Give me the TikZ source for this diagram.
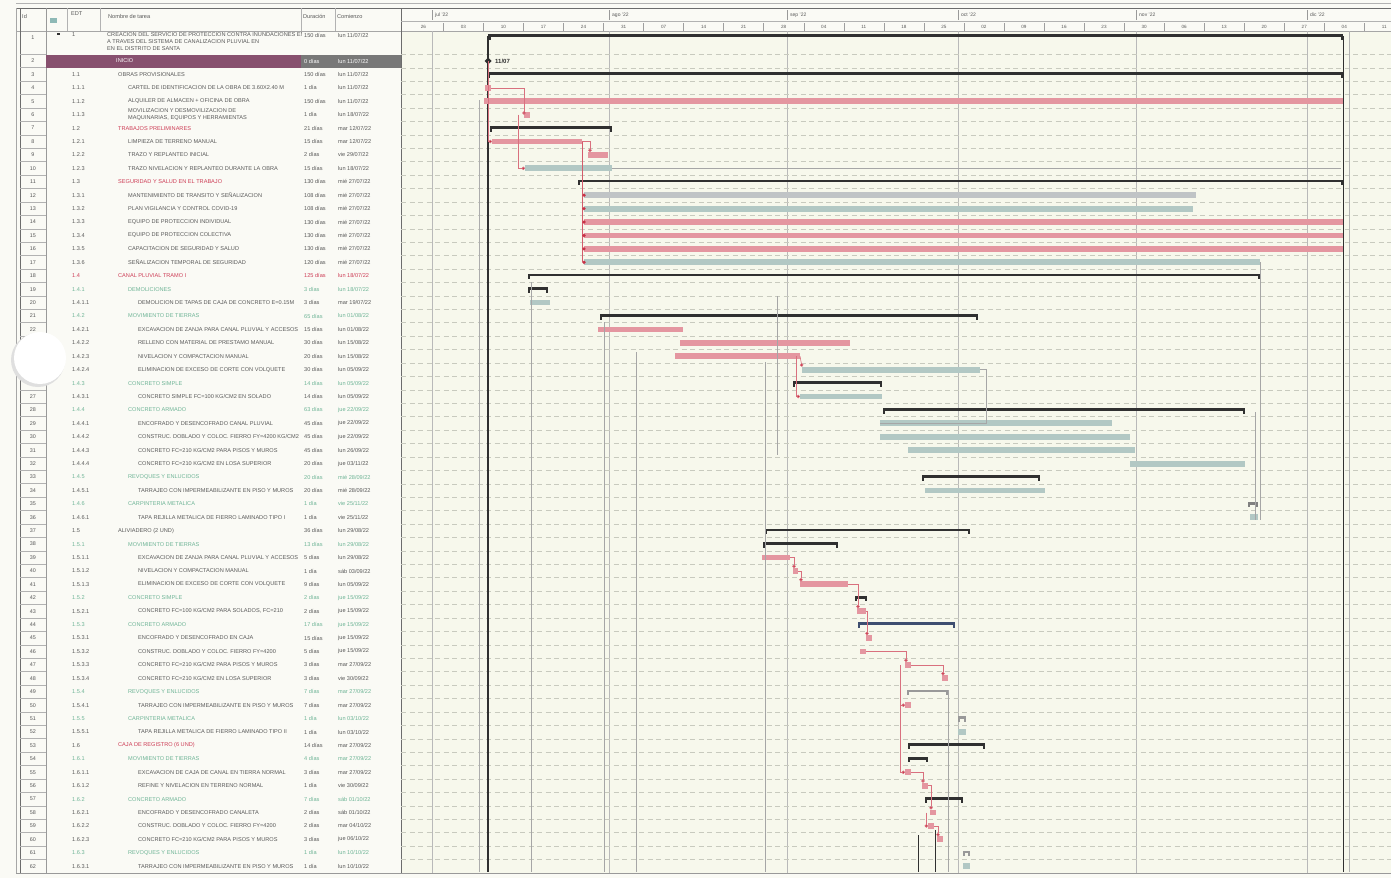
\documentclass[tikz,border=0pt]{standalone}
\usepackage{fontspec}
\setmainfont{Liberation Sans}
\usetikzlibrary{arrows.meta,calc}
\definecolor{paper}{RGB}{250,250,245}
\definecolor{gpaper}{RGB}{247,248,236}
\definecolor{txt}{RGB}{88,88,88}
\definecolor{crit}{RGB}{228,150,160}
\definecolor{critdot}{RGB}{200,50,70}
\definecolor{norm}{RGB}{178,200,196}
\definecolor{normg}{RGB}{192,196,198}
\definecolor{sumc}{RGB}{48,48,48}
\definecolor{sumb}{RGB}{62,78,112}
\definecolor{grntxt}{RGB}{110,180,150}
\definecolor{redtxt}{RGB}{205,60,85}
\definecolor{band}{RGB}{135,80,110}
\definecolor{bandg}{RGB}{120,120,120}
\definecolor{gridc}{RGB}{200,202,190}
\tikzset{
  cell/.style={anchor=west,inner sep=0pt,font=\fontsize{5.6}{6.3}\selectfont,text=txt},
  idcell/.style={anchor=center,inner sep=0pt,font=\fontsize{5.4}{6}\selectfont,text=txt},
  hdr/.style={anchor=west,inner sep=0pt,font=\fontsize{5.6}{6.2}\selectfont,text=txt},
  tier/.style={anchor=center,inner sep=0pt,font=\fontsize{4.6}{5}\selectfont,text=txt},
  mon/.style={anchor=west,inner sep=0pt,font=\fontsize{5}{5.5}\selectfont,text=txt},
  grn/.style={text=grntxt},
  rdt/.style={text=redtxt},
  lnk/.style={draw=gray!70,line width=0.55pt},
  clnk/.style={draw=critdot!70,line width=0.6pt,-{Circle[length=3.4pt,fill=critdot]}},
  rowline/.style={draw=gridc,line width=0.4pt,dash pattern=on 5pt off 3.5pt},
  mgrid/.style={draw=gray!55,line width=0.5pt},
}
\newcommand\RY[1]{61+(#1-2)*13.42}
% id, wbs, name x, name, duration, start, style (all), style (name)
\newcommand\trow[8]{%
  \node[idcell] (id#1) at (33,{\RY{#1}}) {#1};
  \node[cell,#7] (w#1) at (72,{\RY{#1}}) {#2};
  \begin{scope}
    \clip (100,{\RY{#1}-6.7}) rectangle (301,{\RY{#1}+6.7});
    \node[cell,#7,#8] (n#1) at (#3,{\RY{#1}}) {#4};
  \end{scope}
  \node[cell,#7] (d#1) at (304,{\RY{#1}}) {#5};
  \node[cell,#7] (c#1) at (338,{\RY{#1}}) {#6};
}
\newcommand\taskbar[4]{%
  \fill[#4] (#2,{\RY{#1}-2.9}) rectangle (#3,{\RY{#1}+2.9});
  \coordinate (s#1) at (#2,{\RY{#1}});
  \coordinate (e#1) at (#3,{\RY{#1}});
}
\newcommand\sumbar[4]{%
  \fill[#4] (#2,{\RY{#1}-2.2}) rectangle (#3,{\RY{#1}+0.7});
  \fill[#4] (#2,{\RY{#1}-2.2}) rectangle ({#2+2.4},{\RY{#1}+3.6});
  \fill[#4] ({#3-2.4},{\RY{#1}-2.2}) rectangle (#3,{\RY{#1}+3.6});
  \coordinate (s#1) at (#2,{\RY{#1}});
  \coordinate (e#1) at (#3,{\RY{#1}});
}
\begin{document}
\begin{tikzpicture}[x=1pt,y=-1pt]
\useasboundingbox (0,0) rectangle (1391,878);
\fill[paper] (0,0) rectangle (1391,878);
\fill[gpaper] (401,31) rectangle (1391,873);

% ---------- frame and header ----------
\draw[gray!60,line width=0.6pt] (16,3) -- (1391,3);
\draw[gray!85!black,line width=0.9pt] (16,8) -- (1391,8);
\draw[gray!70,line width=0.6pt] (16,31) -- (1391,31);
\draw[gray!80,line width=0.8pt] (16,873) -- (1391,873);
\draw[gray!70,line width=0.6pt] (16,8) -- (16,873);
\draw[gray!85!black,line width=0.9pt] (20,8) -- (20,873);
\draw[gray!80,line width=0.7pt] (46,8) -- (46,873);
\draw[gray!85!black,line width=0.8pt] (401,8) -- (401,873);
\foreach \x in {67,100,301,335} \draw[gray!60,line width=0.5pt] (\x,8) -- (\x,31);

\node[hdr] (hId) at (22,16) {Id};
\fill[norm!80!teal] (50,18) rectangle (57,23);
\node[hdr] (hEdt) at (71,14) {EDT};
\node[hdr] (hName) at (108,16) {Nombre de tarea};
\node[hdr] (hDur) at (303,16) {Duración};
\node[hdr] (hCom) at (337,16) {Comienzo};

% gantt timescale
\draw[gray!60,line width=0.5pt] (401,21) -- (1391,21);
\foreach \x/\m in {432/jul,609/ago,787/sep,958/oct,1136/nov,1307/dic}{
  \draw[gray!80,line width=0.6pt] (\x,10) -- (\x,20);
  \node[mon] at (\x+3,15) {\m\ '22};
  \draw[mgrid] (\x,31) -- (\x,873);
}
\foreach \k in {0,...,23} \draw[gray!75,line width=0.5pt] ({443.4+40.04*\k},23) -- ++(0,8);
\foreach \lab [count=\i from -1] in {26,03,10,17,24,31,07,14,21,28,04,11,18,25,02,09,16,23,30,06,13,20,27,04,11}
  \node[tier] at ({463.4+40.04*\i},27) {\lab};

% row lines
\draw[rowline] (401,54.3) -- (1391,54.3);
\foreach \r in {2,...,61} \draw[rowline] (401,{\RY{\r}+6.71}) -- (1391,{\RY{\r}+6.71});
\draw[gray!60,line width=0.5pt] (20,54.3) -- (46,54.3);
\foreach \r in {2,...,61} \draw[gray!60,line width=0.5pt] (20,{\RY{\r}+6.71}) -- (46,{\RY{\r}+6.71});

% ---------- table ----------
\fill[band] (46,55) rectangle (301,67.5);
\fill[bandg] (301,55) rectangle (401,67.5);

\node[idcell] (id1) at (33,38) {1};
\fill[sumc] (57,33) rectangle (60,35);
\node[cell] (w1) at (72,35) {1};
\begin{scope}
  \clip (100,31) rectangle (301,54);
  \node[cell,anchor=north west,align=left,font=\fontsize{5.6}{7.4}\selectfont] (n1) at (107,32) {CREACION DEL SERVICIO DE PROTECCION CONTRA INUNDACIONES EN\\A TRAVES DEL SISTEMA DE CANALIZACION PLUVIAL EN\\EN EL DISTRITO DE SANTA};
\end{scope}
\node[cell] (d1) at (304,35) {150 días};
\node[cell] (c1) at (338,35) {lun 11/07/22};

\trow{2}{}{116}{INICIO}{0 días}{lun 11/07/22}{text=white}{}
\trow{3}{1.1}{118}{OBRAS PROVISIONALES}{150 días}{lun 11/07/22}{}{}
\trow{4}{1.1.1}{128}{CARTEL DE IDENTIFICACION DE LA OBRA DE 3.60X2.40 M}{1 día}{lun 11/07/22}{}{}
\trow{5}{1.1.2}{128}{ALQUILER DE ALMACEN + OFICINA DE OBRA}{150 días}{lun 11/07/22}{}{}
\trow{6}{1.1.3}{128}{MOVILIZACION Y DESMOVILIZACION DE\\MAQUINARIAS, EQUIPOS Y HERRAMIENTAS}{1 día}{lun 18/07/22}{}{align=left}
\trow{7}{1.2}{118}{TRABAJOS PRELIMINARES}{21 días}{mar 12/07/22}{}{rdt}
\trow{8}{1.2.1}{128}{LIMPIEZA DE TERRENO MANUAL}{15 días}{mar 12/07/22}{}{}
\trow{9}{1.2.2}{128}{TRAZO Y REPLANTEO INICIAL}{2 días}{vie 29/07/22}{}{}
\trow{10}{1.2.3}{128}{TRAZO NIVELACION Y REPLANTEO DURANTE LA OBRA}{15 días}{lun 18/07/22}{}{}
\trow{11}{1.3}{118}{SEGURIDAD Y SALUD EN EL TRABAJO}{130 días}{mié 27/07/22}{}{rdt}
\trow{12}{1.3.1}{128}{MANTENIMIENTO DE TRANSITO Y SEÑALIZACION}{108 días}{mié 27/07/22}{}{}
\trow{13}{1.3.2}{128}{PLAN VIGILANCIA Y CONTROL COVID-19}{108 días}{mié 27/07/22}{}{}
\trow{14}{1.3.3}{128}{EQUIPO DE PROTECCION INDIVIDUAL}{130 días}{mié 27/07/22}{}{}
\trow{15}{1.3.4}{128}{EQUIPO DE PROTECCION COLECTIVA}{130 días}{mié 27/07/22}{}{}
\trow{16}{1.3.5}{128}{CAPACITACION DE SEGURIDAD Y SALUD}{130 días}{mié 27/07/22}{}{}
\trow{17}{1.3.6}{128}{SEÑALIZACION TEMPORAL DE SEGURIDAD}{120 días}{mié 27/07/22}{}{}
\trow{18}{1.4}{118}{CANAL PLUVIAL TRAMO I}{125 días}{lun 18/07/22}{rdt}{}
\trow{19}{1.4.1}{128}{DEMOLICIONES}{3 días}{lun 18/07/22}{grn}{}
\trow{20}{1.4.1.1}{138}{DEMOLICION DE TAPAS DE CAJA DE CONCRETO E=0.15M}{3 días}{mar 19/07/22}{}{}
\trow{21}{1.4.2}{128}{MOVIMIENTO DE TIERRAS}{65 días}{lun 01/08/22}{grn}{}
\trow{22}{1.4.2.1}{138}{EXCAVACION DE ZANJA PARA CANAL PLUVIAL Y ACCESOS}{15 días}{lun 01/08/22}{}{}
\trow{23}{1.4.2.2}{138}{RELLENO CON MATERIAL DE PRESTAMO MANUAL}{30 días}{lun 15/08/22}{}{}
\trow{24}{1.4.2.3}{138}{NIVELACION Y COMPACTACION MANUAL}{20 días}{lun 15/08/22}{}{}
\trow{25}{1.4.2.4}{138}{ELIMINACION DE EXCESO DE CORTE CON VOLQUETE}{30 días}{lun 05/09/22}{}{}
\trow{26}{1.4.3}{128}{CONCRETO SIMPLE}{14 días}{lun 05/09/22}{grn}{}
\trow{27}{1.4.3.1}{138}{CONCRETO SIMPLE FC=100 KG/CM2 EN SOLADO}{14 días}{lun 05/09/22}{}{}
\trow{28}{1.4.4}{128}{CONCRETO ARMADO}{63 días}{jue 22/09/22}{grn}{}
\trow{29}{1.4.4.1}{138}{ENCOFRADO Y DESENCOFRADO CANAL PLUVIAL}{45 días}{jue 22/09/22}{}{}
\trow{30}{1.4.4.2}{138}{CONSTRUC. DOBLADO Y COLOC. FIERRO FY=4200 KG/CM2}{45 días}{jue 22/09/22}{}{}
\trow{31}{1.4.4.3}{138}{CONCRETO FC=210 KG/CM2 PARA PISOS Y MUROS}{45 días}{lun 26/09/22}{}{}
\trow{32}{1.4.4.4}{138}{CONCRETO FC=210 KG/CM2 EN LOSA SUPERIOR}{20 días}{jue 03/11/22}{}{}
\trow{33}{1.4.5}{128}{REVOQUES Y ENLUCIDOS}{20 días}{mié 28/09/22}{grn}{}
\trow{34}{1.4.5.1}{138}{TARRAJEO CON IMPERMEABILIZANTE EN PISO Y MUROS}{20 días}{mié 28/09/22}{}{}
\trow{35}{1.4.6}{128}{CARPINTERIA METALICA}{1 día}{vie 25/11/22}{grn}{}
\trow{36}{1.4.6.1}{138}{TAPA REJILLA METALICA DE FIERRO LAMINADO TIPO I}{1 día}{vie 25/11/22}{}{}
\trow{37}{1.5}{118}{ALIVIADERO (2 UND)}{36 días}{lun 29/08/22}{}{}
\trow{38}{1.5.1}{128}{MOVIMIENTO DE TIERRAS}{13 días}{lun 29/08/22}{grn}{}
\trow{39}{1.5.1.1}{138}{EXCAVACION DE ZANJA PARA CANAL PLUVIAL Y ACCESOS}{5 días}{lun 29/08/22}{}{}
\trow{40}{1.5.1.2}{138}{NIVELACION Y COMPACTACION MANUAL}{1 día}{sáb 03/09/22}{}{}
\trow{41}{1.5.1.3}{138}{ELIMINACION DE EXCESO DE CORTE CON VOLQUETE}{9 días}{lun 05/09/22}{}{}
\trow{42}{1.5.2}{128}{CONCRETO SIMPLE}{2 días}{jue 15/09/22}{grn}{}
\trow{43}{1.5.2.1}{138}{CONCRETO FC=100 KG/CM2 PARA SOLADOS, FC=210}{2 días}{jue 15/09/22}{}{}
\trow{44}{1.5.3}{128}{CONCRETO ARMADO}{17 días}{jue 15/09/22}{grn}{}
\trow{45}{1.5.3.1}{138}{ENCOFRADO Y DESENCOFRADO EN CAJA}{15 días}{jue 15/09/22}{}{}
\trow{46}{1.5.3.2}{138}{CONSTRUC. DOBLADO Y COLOC. FIERRO FY=4200}{5 días}{jue 15/09/22}{}{}
\trow{47}{1.5.3.3}{138}{CONCRETO FC=210 KG/CM2 PARA PISOS Y MUROS}{3 días}{mar 27/09/22}{}{}
\trow{48}{1.5.3.4}{138}{CONCRETO FC=210 KG/CM2 EN LOSA SUPERIOR}{3 días}{vie 30/09/22}{}{}
\trow{49}{1.5.4}{128}{REVOQUES Y ENLUCIDOS}{7 días}{mar 27/09/22}{grn}{}
\trow{50}{1.5.4.1}{138}{TARRAJEO CON IMPERMEABILIZANTE EN PISO Y MUROS}{7 días}{mar 27/09/22}{}{}
\trow{51}{1.5.5}{128}{CARPINTERIA METALICA}{1 día}{lun 03/10/22}{grn}{}
\trow{52}{1.5.5.1}{138}{TAPA REJILLA METALICA DE FIERRO LAMINADO TIPO II}{1 día}{lun 03/10/22}{}{}
\trow{53}{1.6}{118}{CAJA DE REGISTRO (6 UND)}{14 días}{mar 27/09/22}{}{rdt}
\trow{54}{1.6.1}{128}{MOVIMIENTO DE TIERRAS}{4 días}{mar 27/09/22}{grn}{}
\trow{55}{1.6.1.1}{138}{EXCAVACION DE CAJA DE CANAL EN TIERRA NORMAL}{3 días}{mar 27/09/22}{}{}
\trow{56}{1.6.1.2}{138}{REFINE Y NIVELACION EN TERRENO NORMAL}{1 día}{vie 30/09/22}{}{}
\trow{57}{1.6.2}{128}{CONCRETO ARMADO}{7 días}{sáb 01/10/22}{grn}{}
\trow{58}{1.6.2.1}{138}{ENCOFRADO Y DESENCOFRADO CANALETA}{2 días}{sáb 01/10/22}{}{}
\trow{59}{1.6.2.2}{138}{CONSTRUC. DOBLADO Y COLOC. FIERRO FY=4200}{2 días}{mar 04/10/22}{}{}
\trow{60}{1.6.2.3}{138}{CONCRETO FC=210 KG/CM2 PARA PISOS Y MUROS}{3 días}{jue 06/10/22}{}{}
\trow{61}{1.6.3}{128}{REVOQUES Y ENLUCIDOS}{1 día}{lun 10/10/22}{grn}{}
\trow{62}{1.6.3.1}{138}{TARRAJEO CON IMPERMEABILIZANTE EN PISO Y MUROS}{1 día}{lun 10/10/22}{}{}

% hole punch
\fill[gray!25] (38,360) circle (27);
\fill[white] (40,358) circle (26);

% ---------- gantt: long vertical lines ----------
\draw[sumc,line width=1.2pt] (488,36) -- (488,872);
\draw[gray!65,line width=0.8pt] (479,100) -- (479,872);
\draw[sumc,line width=1pt] (1343,36) -- (1343,872);
\draw[gray!60,line width=0.6pt] (1349,31) -- (1349,872);

% ---------- bars ----------
\fill[sumc] (488,34) rectangle (1343,37);
\fill[sumc] (488,34) rectangle (490.5,40);
\fill[sumc] (1340.5,34) rectangle (1343,40);
\coordinate (s1) at (488,36);
\coordinate (e1) at (1343,36);

\coordinate (ms) at (488,61);
\fill[sumc] (488,57.5) -- (491.5,61) -- (488,64.5) -- (484.5,61) -- cycle;
\node[anchor=west,inner sep=0pt,font=\bfseries\fontsize{6}{6}\selectfont,text=sumc] (ml) at (495,61) {11/07};

\sumbar{3}{488}{1343}{sumc}
\taskbar{4}{485}{491}{crit}
\taskbar{5}{484}{1343}{crit}
\taskbar{6}{524}{530}{crit}
\sumbar{7}{490}{612}{sumc}
\taskbar{8}{492}{582}{crit}
\taskbar{9}{588}{608}{crit}
\taskbar{10}{525}{612}{norm}
\draw[gray!70,line width=0.6pt] (e10) -- (1341,{\RY{10}});
\sumbar{11}{578}{1343}{sumc}
\taskbar{12}{584}{1196}{normg}
\taskbar{13}{584}{1193}{norm}
\taskbar{14}{584}{1343}{crit}
\taskbar{15}{584}{1343}{crit}
\taskbar{16}{584}{1343}{crit}
\taskbar{17}{584}{1260}{norm}
\sumbar{18}{528}{1260}{sumc}
\sumbar{19}{528}{548}{sumc}
\taskbar{20}{530}{550}{norm}
\sumbar{21}{600}{978}{sumc}
\taskbar{22}{598}{683}{crit}
\taskbar{23}{680}{850}{crit}
\taskbar{24}{675}{800}{crit}
\taskbar{25}{802}{980}{norm}
\sumbar{26}{793}{882}{sumc}
\taskbar{27}{800}{882}{norm}
\sumbar{28}{883}{1245}{sumc}
\taskbar{29}{880}{1112}{norm}
\taskbar{30}{880}{1130}{norm}
\taskbar{31}{908}{1135}{norm}
\taskbar{32}{1130}{1245}{norm}
\sumbar{33}{922}{1040}{sumc}
\taskbar{34}{925}{1045}{norm}
\sumbar{35}{1248}{1258}{gray}
\taskbar{36}{1250}{1258}{norm}
\sumbar{37}{765}{970}{sumc}
\sumbar{38}{763}{838}{sumc}
\taskbar{39}{762}{790}{crit}
\taskbar{40}{793}{798}{crit}
\taskbar{41}{800}{848}{crit}
\sumbar{42}{855}{867}{sumc}
\taskbar{43}{857}{866}{crit}
\sumbar{44}{858}{955}{sumb}
\taskbar{45}{866}{872}{crit}
\taskbar{46}{860}{866}{crit}
\taskbar{47}{905}{911}{crit}
\taskbar{48}{942}{948}{crit}
\sumbar{49}{907}{948}{gray!80}
\taskbar{50}{905}{911}{crit}
\sumbar{51}{958}{966}{gray!80}
\taskbar{52}{958}{966}{norm}
\sumbar{53}{908}{985}{sumc}
\sumbar{54}{908}{928}{sumc}
\taskbar{55}{905}{911}{crit}
\taskbar{56}{922}{928}{crit}
\sumbar{57}{925}{963}{sumc}
\taskbar{58}{930}{936}{crit}
\taskbar{59}{928}{934}{crit}
\taskbar{60}{937}{943}{crit}
\sumbar{61}{963}{970}{gray!80}
\taskbar{62}{963}{970}{norm}

% ---------- links ----------
\draw[clnk] (ms) |- (s8);
\draw[clnk] (e4) -| (s6);
\draw[clnk] ($(s6)+(-6,0)$) |- (s10);
\draw[clnk] (e8) -| ($(s9)+(2,-3)$);
\draw[critdot!80,line width=0.7pt] (e8) -- (e8 |- s17);
\foreach \r in {12,...,17} \fill[critdot] (s\r) circle (1.8);
\draw[clnk] (e24) -- ($(s25)+(0,-3)$);
\draw[clnk] ($(e24)+(-4,0)$) |- (s27);
\draw[clnk] (e39) -| ($(s40)+(1,-3)$);
\draw[clnk] (e40) -| ($(s41)+(1,-3)$);
\draw[clnk] (e41) -| ($(s43)+(1,-3)$);
\draw[clnk] (e43) -| ($(s45)+(1,-3)$);
\draw[clnk] (e46) -| ($(s47)+(1,-3)$);
\draw[clnk] (e47) -| ($(s48)+(1,-3)$);
\draw[clnk] ($(s47)+(-5,0)$) |- (s50);
\draw[clnk] ($(s50)+(-5,0)$) |- (s55);
\draw[clnk] (e55) -| ($(s56)+(1,-3)$);
\draw[clnk] (e56) -| ($(s58)+(1,-3)$);
\draw[clnk] ($(s58)+(-4,0)$) |- (s59);
\draw[clnk] (e59) -| ($(s60)+(1,-3)$);

% long link lines
\coordinate (v1t) at (531,282);  \coordinate (v1b) at (531,872);
\coordinate (v2t) at (604,322);  \coordinate (v2b) at (604,872);
\coordinate (v3t) at (636,352);  \coordinate (v3b) at (636,872);
\coordinate (v4t) at (765,362);  \coordinate (v4b) at (765,872);
\coordinate (v5t) at (777,296);  \coordinate (v5b) at (777,455);
\coordinate (v6t) at (948,690);  \coordinate (v6b) at (948,872);
\coordinate (v7t) at (918,835);  \coordinate (v7b) at (918,872);
\coordinate (v8t) at (935,830);  \coordinate (v8b) at (935,872);
\coordinate (v9t) at (1255,412); \coordinate (v9b) at (1255,520);
\foreach \v in {1,2,3,4,5,6,9} \draw[lnk] (v\v t) -- (v\v b);
\foreach \v in {7,8} \draw[sumc,line width=0.8pt] (v\v t) -- (v\v b);
\draw[lnk] (e17) -- (e17 |- v9b);
\draw[lnk] (e25) -- ++(6,0) |- (s29);
\end{tikzpicture}
\end{document}
